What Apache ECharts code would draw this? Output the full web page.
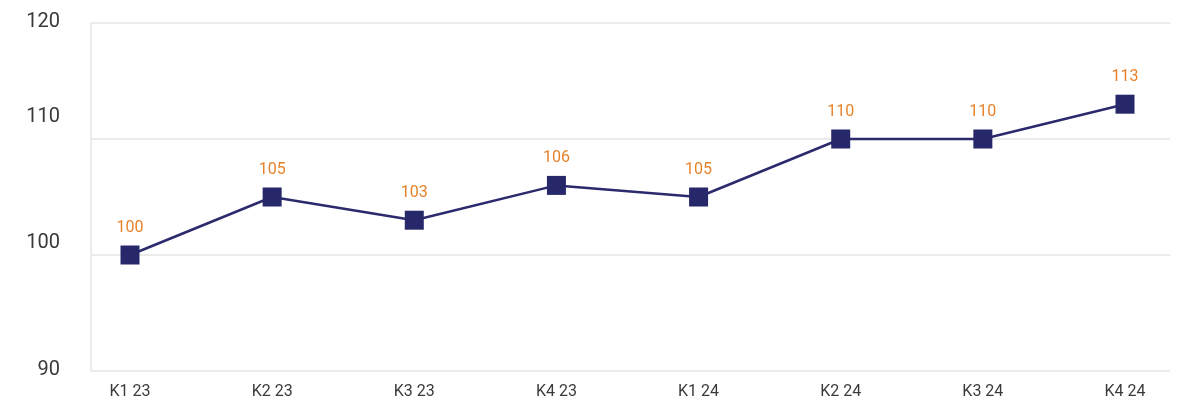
<!DOCTYPE html>
<html>
<head>
<meta charset="utf-8">
<script src="https://cdn.jsdelivr.net/npm/echarts@6/dist/echarts.min.js"></script>
<style>
  html, body { margin: 0; padding: 0; background: #ffffff; }
  #chart { width: 1198px; height: 410px; }
</style>
</head>
<body>
<div id="chart"></div>
<script>
// Quarterly index values
const quarters = ['K1 23', 'K2 23', 'K3 23', 'K4 23', 'K1 24', 'K2 24', 'K3 24', 'K4 24'];
const indexValues = [100, 105, 103, 106, 105, 110, 110, 113];
const yTicks = [90, 100, 110, 120];

const chart = echarts.init(document.getElementById('chart'), null, { renderer: 'canvas' });

const FONT = 'Roboto, "DejaVu Sans", sans-serif';
const GRID_COLOR = '#e4e4e4';

chart.setOption({
  backgroundColor: '#ffffff',
  animation: false,
  grid: [
    // background frame with horizontal rules
    { left: 91, right: 28, top: 23, bottom: 39 },
    // plotting area for the series
    { left: 130, right: 73, top: 23, bottom: 39 }
  ],
  xAxis: [
    {
      gridIndex: 0, type: 'value', min: 0, max: 1,
      show: false
    },
    {
      gridIndex: 1, type: 'category', data: quarters, boundaryGap: false,
      axisLine: { show: false },
      axisTick: { show: false },
      splitLine: { show: false },
      axisLabel: {
        color: '#3a3a3a', fontFamily: FONT, fontSize: 16, margin: 13
      }
    }
  ],
  yAxis: [
    {
      gridIndex: 0, type: 'value',
      min: yTicks[0], max: yTicks[yTicks.length - 1], interval: 10,
      axisLine: { show: true, lineStyle: { color: GRID_COLOR, width: 1.5 } },
      axisTick: { show: false },
      splitLine: { show: true, lineStyle: { color: GRID_COLOR, width: 1.5 } },
      axisLabel: {
        margin: 31,
        formatter: function (v) {
          if (v === 110) return '{hi|' + v + '}';
          if (v === 100) return '{mid|' + v + '}';
          return '{n|' + v + '}';
        },
        rich: {
          n:   { color: '#3a3a3a', fontFamily: FONT, fontSize: 20, padding: [0, 0, 2, 0] },
          hi:  { color: '#3a3a3a', fontFamily: FONT, fontSize: 20, padding: [0, 0, 44, 0] },
          mid: { color: '#3a3a3a', fontFamily: FONT, fontSize: 20, padding: [0, 0, 24, 0] }
        }
      }
    },
    {
      gridIndex: 1, type: 'value',
      min: yTicks[0], max: yTicks[yTicks.length - 1], interval: 10,
      show: false
    }
  ],
  series: [
    {
      type: 'line',
      xAxisIndex: 1,
      yAxisIndex: 1,
      data: indexValues,
      symbol: 'rect',
      symbolSize: 19,
      showAllSymbol: true,
      lineStyle: { color: '#2b2a6c', width: 2.5 },
      itemStyle: { color: '#27286a', borderWidth: 0 },
      label: {
        show: true,
        position: 'top',
        distance: 10,
        color: '#e8822a',
        fontFamily: FONT,
        fontSize: 16
      },
      z: 5
    }
  ]
});
</script>
</body>
</html>
